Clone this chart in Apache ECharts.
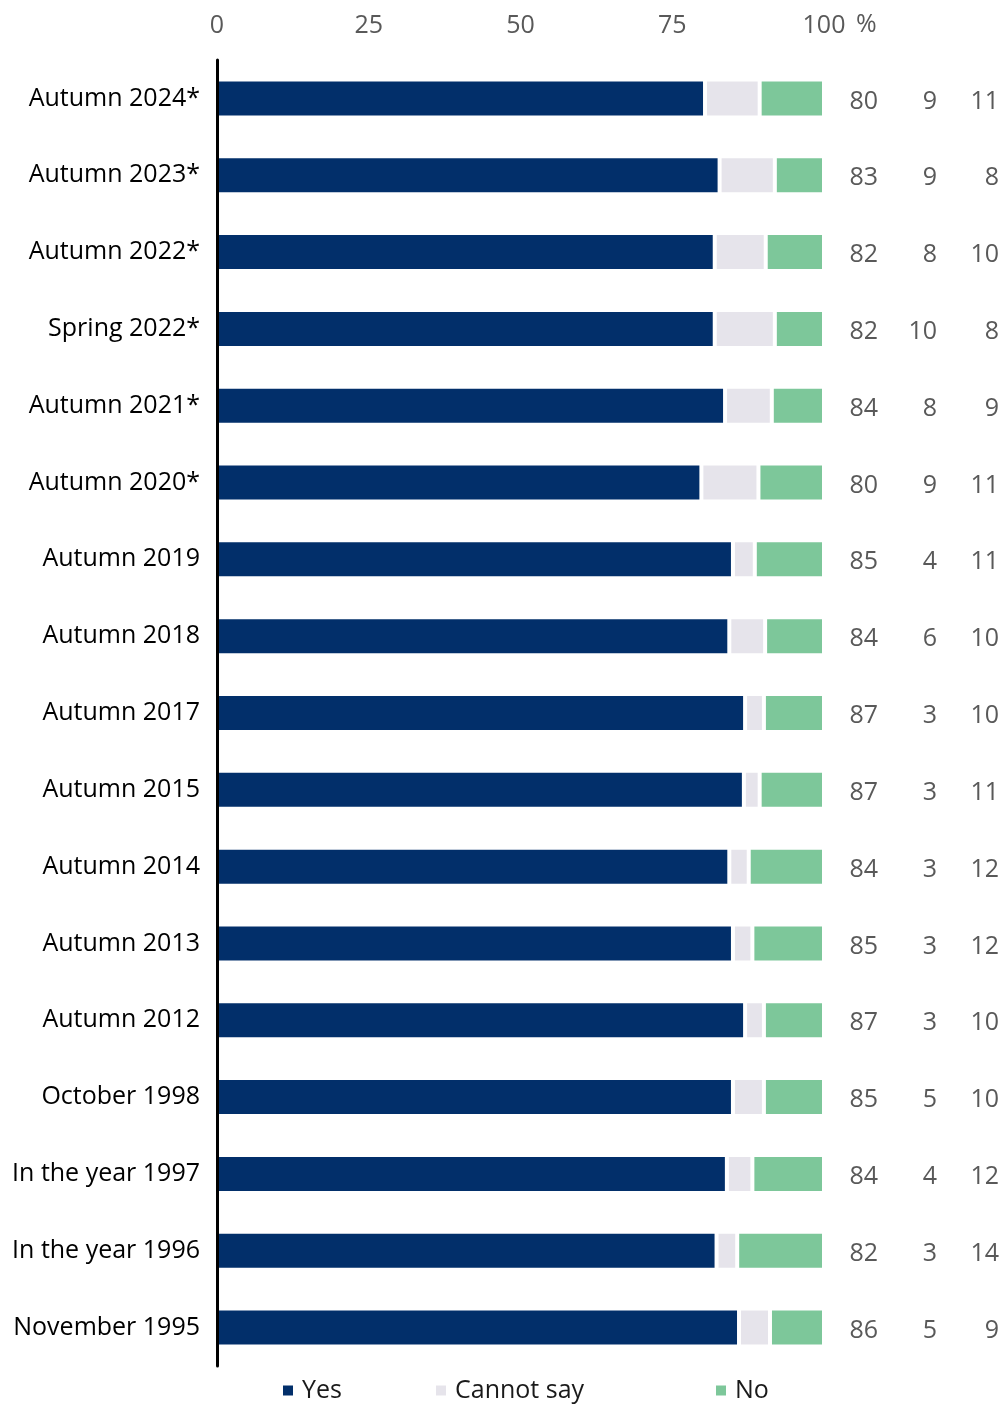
<!DOCTYPE html>
<html>
<head>
<meta charset="utf-8">
<script src="https://cdn.jsdelivr.net/npm/echarts@6/dist/echarts.min.js"></script>
<style>
html,body{margin:0;padding:0;background:#fff;}
#chart{width:1005px;height:1405px;}
</style>
</head>
<body>
<div id="chart"></div>
<script>
// Categories (top to bottom)
const categories = [
  "Autumn 2024*", "Autumn 2023*", "Autumn 2022*", "Spring 2022*", "Autumn 2021*",
  "Autumn 2020*", "Autumn 2019", "Autumn 2018", "Autumn 2017", "Autumn 2015",
  "Autumn 2014", "Autumn 2013", "Autumn 2012", "October 1998", "In the year 1997",
  "In the year 1996", "November 1995"
];
// Bar lengths (%)
const yesBar    = [80.4, 82.8, 82.0, 82.0, 83.7, 79.8, 85.0, 84.4, 87.0, 86.8, 84.4, 85.0, 87.0, 85.0, 84.0, 82.3, 86.0];
const cannotBar = [ 9.0,  9.1,  8.4,  9.9,  7.7,  9.4,  3.6,  5.9,  3.1,  2.6,  3.2,  3.2,  3.1,  5.1,  4.2,  3.4,  5.1];
const noBar     = [10.6,  8.1,  9.6,  8.1,  8.6, 10.8, 11.4,  9.7,  9.9, 10.6, 12.4, 11.8,  9.9,  9.9, 11.8, 14.3,  8.9];
// Printed values (right-hand columns)
const yesLabel    = [80, 83, 82, 82, 84, 80, 85, 84, 87, 87, 84, 85, 87, 85, 84, 82, 86];
const cannotLabel = [ 9,  9,  8, 10,  8,  9,  4,  6,  3,  3,  3,  3,  3,  5,  4,  3,  5];
const noLabel     = [11,  8, 10,  8,  9, 11, 11, 10, 10, 11, 12, 12, 10, 10, 12, 14,  9];
const xTicks = [0, 25, 50, 75, 100];
const seriesNames = ["Yes", "Cannot say", "No"];
const colors = ["#022F6A", "#E6E4EB", "#7DC79A"];

const FONT = "Open Sans";
const chart = echarts.init(document.getElementById('chart'), null, {renderer: 'canvas'});

const barCommon = {
  type: 'bar',
  stack: 'total',
  barWidth: 38,
  itemStyle: {borderColor: '#ffffff', borderWidth: 2},
  emphasis: {disabled: true},
  animation: false
};

const option = {
  animation: false,
  textStyle: {fontFamily: FONT},
  grid: {left: 217, top: 60, width: 607, height: 1306, containLabel: false},
  xAxis: {
    type: 'value',
    position: 'top',
    min: xTicks[0],
    max: xTicks[xTicks.length - 1],
    interval: 25,
    axisLine: {show: false},
    axisTick: {show: false},
    splitLine: {show: false},
    axisLabel: {color: '#595959', fontSize: 25, margin: 22, fontFamily: FONT}
  },
  yAxis: {
    type: 'category',
    inverse: true,
    data: categories,
    z: 5,
    axisLine: {show: true, lineStyle: {color: '#000', width: 3}},
    axisTick: {show: false},
    axisLabel: {color: '#000', fontSize: 25, margin: 17, fontFamily: FONT, padding: [4, 0, 0, 0]}
  },
  legend: [0, 1, 2].map((i) => ({
    data: [seriesNames[i]],
    left: [281, 434, 714][i],
    top: 1378,
    padding: 0,
    itemWidth: 12,
    itemHeight: 12,
    icon: 'rect',
    selectedMode: false,
    textStyle: {color: '#1a1a1a', fontSize: 25, fontFamily: FONT, padding: [0, 0, 0, 3]}
  })),
  series: [
    Object.assign({}, barCommon, {name: seriesNames[0], data: yesBar, itemStyle: Object.assign({}, barCommon.itemStyle, {color: colors[0]})}),
    Object.assign({}, barCommon, {name: seriesNames[1], data: cannotBar, itemStyle: Object.assign({}, barCommon.itemStyle, {color: colors[1]})}),
    Object.assign({}, barCommon, {
      name: seriesNames[2], data: noBar,
      itemStyle: Object.assign({}, barCommon.itemStyle, {color: colors[2]}),
      label: {
        show: true,
        position: 'right',
        distance: 0,
        offset: [0, 3],
        formatter: (p) => '{a|' + yesLabel[p.dataIndex] + '}{b|' + cannotLabel[p.dataIndex] + '}{c|' + noLabel[p.dataIndex] + '}',
        rich: {
          a: {width: 54, align: 'right', fontSize: 25, color: '#595959', fontFamily: FONT},
          b: {width: 59, align: 'right', fontSize: 25, color: '#595959', fontFamily: FONT},
          c: {width: 62, align: 'right', fontSize: 25, color: '#595959', fontFamily: FONT}
        }
      }
    })
  ],
  graphic: [{
    type: 'text',
    left: 856,
    top: 12,
    style: {text: '%', fontSize: 25, fill: '#595959', fontFamily: FONT}
  }]
};
chart.setOption(option);
</script>
</body>
</html>
